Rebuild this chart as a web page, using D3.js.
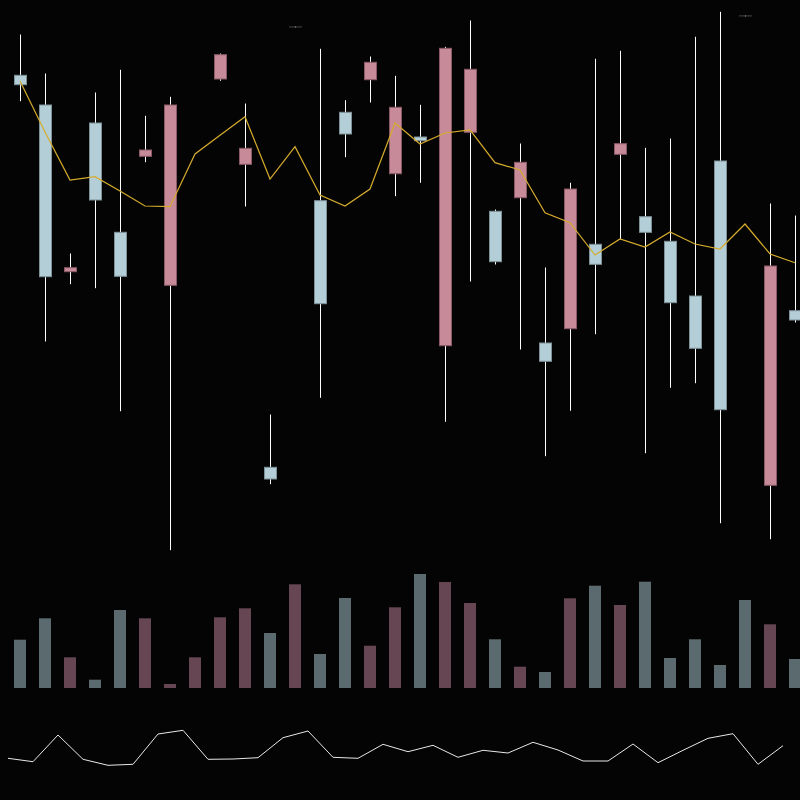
<!DOCTYPE html>
<html>
<head>
<meta charset="utf-8">
<script src="https://cdn.jsdelivr.net/npm/d3@7"></script>
<style>
  html, body { margin: 0; padding: 0; background: #050405; }
  svg { display: block; }
</style>
</head>
<body>
<svg id="chart" width="800" height="800"></svg>
<script>
const days = d3.range(1, 33).map(i => "D" + i);
const opens  = [51.53,32.33,33.23,40.00,32.37,45.00,49.50,62.00,54.53,45.17,12.10,57.31,29.63,46.60,53.77,49.27,45.93,55.17,53.07,33.83,43.77,23.87,41.10,33.57,45.63,36.77,29.73,25.17,19.03,58.40,33.40,28.00];
const closes = [52.47,49.50,32.83,47.70,36.77,44.37,31.47,61.60,52.10,43.57,13.27,57.30,39.93,48.77,52.03,42.63,46.30,25.43,46.77,38.87,40.23,25.70,27.13,35.57,44.57,38.33,35.87,30.40,43.90,58.41,11.47,28.93];
const highs  = [56.50,52.60,34.60,50.70,52.97,48.37,50.27,62.20,54.60,49.60,18.50,57.31,55.07,49.93,54.30,52.37,49.47,55.27,57.90,39.00,45.60,33.20,41.67,54.07,54.87,45.17,46.10,56.27,58.77,58.41,39.60,38.40];
const lows   = [49.93,25.90,31.63,31.23,18.93,43.83,5.03,61.50,51.97,39.40,11.63,57.30,20.27,44.33,49.80,40.43,41.77,17.87,31.90,33.60,25.10,14.43,18.97,26.63,36.10,14.73,21.27,21.73,7.73,58.40,6.13,27.80];
const maValues = [51.90,46.80,42.00,42.33,40.90,39.40,39.33,44.60,46.47,48.33,42.10,45.33,40.50,39.40,41.10,47.70,45.60,46.70,47.00,43.73,43.00,38.73,37.73,34.50,36.10,35.30,36.80,35.60,35.10,37.60,34.60,33.73];
const volumes = [483,697,307,83,780,697,40,307,707,797,550,1037,340,900,423,807,1140,1060,850,487,213,160,897,1023,830,1063,300,487,230,880,637,290];
const oscValues = [21.7,18.3,45.0,20.7,14.7,15.7,46.0,49.7,20.7,21.0,22.3,42.3,49.0,22.7,21.7,35.7,28.3,34.7,22.7,29.7,27.0,37.7,30.0,19.0,19.0,36.0,17.3,29.7,41.7,46.3,15.7,34.3];

const upFill = "#b3ced7", upStroke = "#7e9197";
const downFill = "#c68a98", downStroke = "#8a5a67";
const upVol = "#5a6a6e", downVol = "#654652";

const data = days.map((d, i) => ({
  day: d, open: opens[i], close: closes[i], high: highs[i], low: lows[i],
  ma: maValues[i], vol: volumes[i], osc: oscValues[i]
}));

const svg = d3.select("#chart");
svg.append("rect").attr("width", 800).attr("height", 800).attr("fill", "#050405");

const x = d3.scaleBand().domain(days).range([7.5, 807.5]).paddingInner(0.52).paddingOuter(0.26);
const bw = x.bandwidth();
const y = d3.scaleLinear().domain([0, 60]).range([600, 0]);
const yVol = d3.scaleLinear().domain([0, 1200]).range([688, 568]);
const yOsc = d3.scaleLinear().domain([0, 60]).range([780, 720]);

const up = d => d.close >= d.open;
const cx = d => Math.round(x(d.day) + bw / 2) + 0.5;

// wicks
svg.append("g").selectAll("line").data(data).join("line")
  .attr("x1", cx).attr("x2", cx)
  .attr("y1", d => y(d.high)).attr("y2", d => y(d.low))
  .attr("stroke", "#ffffff").attr("stroke-width", 1)
  .attr("stroke-linecap", "square");

// bodies
svg.append("g").selectAll("rect").data(data).join("rect")
  .attr("x", d => x(d.day) + 0.5)
  .attr("width", bw)
  .attr("y", d => y(Math.max(d.open, d.close)))
  .attr("height", d => Math.max(0.1, Math.abs(y(d.open) - y(d.close))))
  .attr("fill", d => up(d) ? upFill : downFill)
  .attr("stroke", d => Math.abs(y(d.open) - y(d.close)) < 1 && Math.abs(y(d.high) - y(d.low)) < 1 ? "#3a3a3a" : (up(d) ? upStroke : downStroke))
  .attr("stroke-width", 1);

// moving average
svg.append("path").datum(data)
  .attr("d", d3.line().x(d => x(d.day) + bw / 2).y(d => y(d.ma)))
  .attr("fill", "none").attr("stroke", "#d6ac2c").attr("stroke-width", 1.2);

// volume
svg.append("g").selectAll("rect").data(data).join("rect")
  .attr("x", d => x(d.day)).attr("width", bw)
  .attr("y", d => yVol(d.vol)).attr("height", d => yVol(0) - yVol(d.vol))
  .attr("fill", d => up(d) ? upVol : downVol);

// oscillator line
svg.append("path").datum(data)
  .attr("d", d3.line().x(d => x(d.day) - bw / 2).y(d => yOsc(d.osc)))
  .attr("fill", "none").attr("stroke", "#e8e8e8").attr("stroke-width", 1);
</script>
</body>
</html>
